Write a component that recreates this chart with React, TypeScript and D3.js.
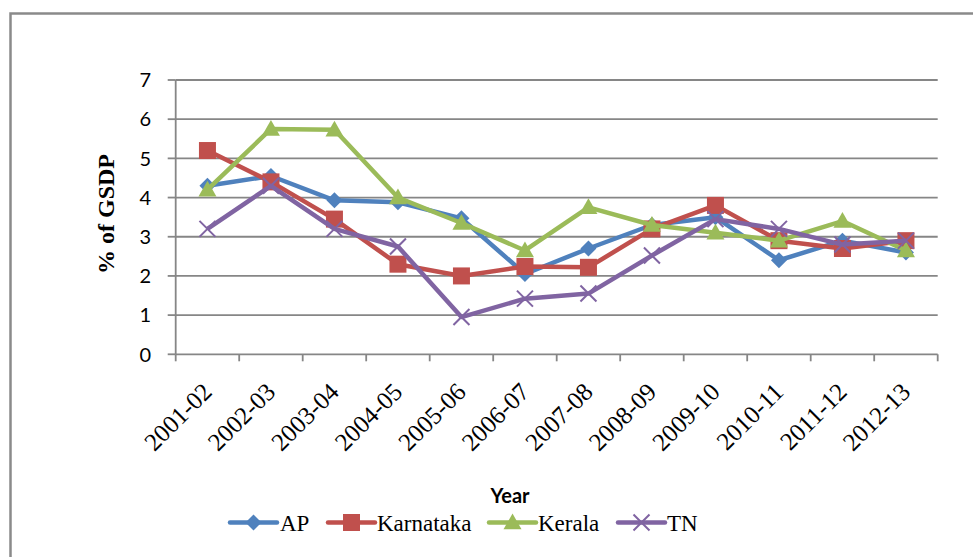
import React from "react";
import * as d3 from "d3";

const categories = ["2001-02","2002-03","2003-04","2004-05","2005-06","2006-07","2007-08","2008-09","2009-10","2010-11","2011-12","2012-13"];
const apValues = [4.3, 4.55, 3.93, 3.88, 3.47, 2.05, 2.7, 3.3, 3.5, 2.4, 2.9, 2.6];
const karnatakaValues = [5.2, 4.4, 3.45, 2.3, 2.0, 2.24, 2.22, 3.2, 3.8, 2.9, 2.7, 2.9];
const keralaValues = [4.2, 5.75, 5.73, 4.0, 3.35, 2.65, 3.75, 3.3, 3.1, 2.9, 3.4, 2.65];
const tnValues = [3.2, 4.3, 3.2, 2.75, 0.95, 1.42, 1.55, 2.52, 3.45, 3.2, 2.8, 2.9];
const yTicks = [0, 1, 2, 3, 4, 5, 6, 7];
const seriesNames = ["AP", "Karnataka", "Kerala", "TN"];
const seriesColors = ["#4F81BD", "#C0504D", "#9BBB59", "#8064A2"];
const seriesMarkers = ["diamond", "square", "triangle", "cross"];

const W = 973, H = 557;
const left = 175.7, right = 937.7, top = 80, bottom = 354.3;
const serif = "'Liberation Serif', 'Times New Roman', Times, serif";
const sans = "Lato, 'Open Sans', sans-serif";

function Marker({ type, x, y, color }: { type: string; x: number; y: number; color: string }) {
  if (type === "diamond") {
    const s = 8;
    return <path d={`M${x},${y - s}L${x + s},${y}L${x},${y + s}L${x - s},${y}Z`} fill={color} />;
  }
  if (type === "square") {
    const s = 8.5;
    return <rect x={x - s} y={y - s} width={2 * s} height={2 * s} fill={color} />;
  }
  if (type === "triangle") {
    const s = 9;
    return <path d={`M${x},${y - s}L${x + s},${y + s * 0.75}L${x - s},${y + s * 0.75}Z`} fill={color} />;
  }
  const s = 8;
  return <path d={`M${x - s},${y - s}L${x + s},${y + s}M${x + s},${y - s}L${x - s},${y + s}`} stroke={color} strokeWidth={2} fill="none" />;
}

export default function App() {
  const x = d3.scaleBand<string>().domain(categories).range([left, right]);
  const y = d3.scaleLinear().domain([0, 7]).range([bottom, top]);
  const allSeries = [apValues, karnatakaValues, keralaValues, tnValues];
  const line = d3.line<number>()
    .x((_, i) => (x(categories[i]) as number) + x.bandwidth() / 2)
    .y((d) => y(d));
  const gridColor = "#868686";
  const legendItems = [
    { lx: 230, tx: 280 },
    { lx: 328, tx: 377 },
    { lx: 489, tx: 538 },
    { lx: 618, tx: 667 },
  ];
  const legendY = 522.5;
  const tickEdges = [...categories.map((c) => x(c) as number), right];
  return (
    <svg width={W} height={H} style={{ position: "absolute", left: 0, top: 0, background: "#fff" }}>
      <rect x={10.5} y={13.5} width={W + 20} height={H + 20} fill="#fff" stroke="#8a8a8a" strokeWidth={2.5} />
      {yTicks.map((t) => (
        <g key={t}>
          {t > 0 && <line x1={left} x2={right} y1={y(t)} y2={y(t)} stroke={gridColor} strokeWidth={1.8} />}
          <line x1={left - 8} x2={left} y1={y(t)} y2={y(t)} stroke={gridColor} strokeWidth={1.8} />
          <text x={151} y={y(t)} dy="0.36em" textAnchor="end" style={{ fontFamily: sans, fontSize: 20 }} fill="#000">{t}</text>
        </g>
      ))}
      <line x1={left} x2={left} y1={top} y2={bottom} stroke={gridColor} strokeWidth={1.8} />
      <line x1={left} x2={right} y1={bottom} y2={bottom} stroke={gridColor} strokeWidth={1.8} />
      {tickEdges.map((e, i) => (
        <line key={i} x1={e} x2={e} y1={bottom} y2={bottom + 7} stroke={gridColor} strokeWidth={1.8} />
      ))}
      {categories.map((c) => {
        const cx = (x(c) as number) + x.bandwidth() / 2 + 6;
        const cy = bottom + 39;
        return (
          <text key={c} x={cx} y={cy} textAnchor="end" transform={`rotate(-45 ${cx} ${cy})`} style={{ fontFamily: serif, fontSize: 25 }} fill="#000">{c}</text>
        );
      })}
      <text x={0} y={0} transform={`translate(114 214) rotate(-90)`} textAnchor="middle" style={{ fontFamily: serif, fontSize: 24, fontWeight: "bold" }} fill="#000">% of GSDP</text>
      {allSeries.map((vals, si) => (
        <g key={si}>
          <path d={line(vals) as string} fill="none" stroke={seriesColors[si]} strokeWidth={4.5} strokeLinejoin="round" />
          {vals.map((v, i) => (
            <Marker key={i} type={seriesMarkers[si]} x={(x(categories[i]) as number) + x.bandwidth() / 2} y={y(v)} color={seriesColors[si]} />
          ))}
        </g>
      ))}
      <text x={510} y={503} textAnchor="middle" style={{ fontFamily: sans, fontSize: 20, fontWeight: "bold" }} fill="#000">Year</text>
      {legendItems.map((li, i) => (
        <g key={i}>
          <line x1={li.lx} x2={li.lx + 47} y1={legendY} y2={legendY} stroke={seriesColors[i]} strokeWidth={4.5} strokeLinecap="round" />
          <Marker type={seriesMarkers[i]} x={li.lx + 23.5} y={legendY} color={seriesColors[i]} />
          <text x={li.tx} y={531} style={{ fontFamily: serif, fontSize: 23 }} fill="#000">{seriesNames[i]}</text>
        </g>
      ))}
    </svg>
  );
}
